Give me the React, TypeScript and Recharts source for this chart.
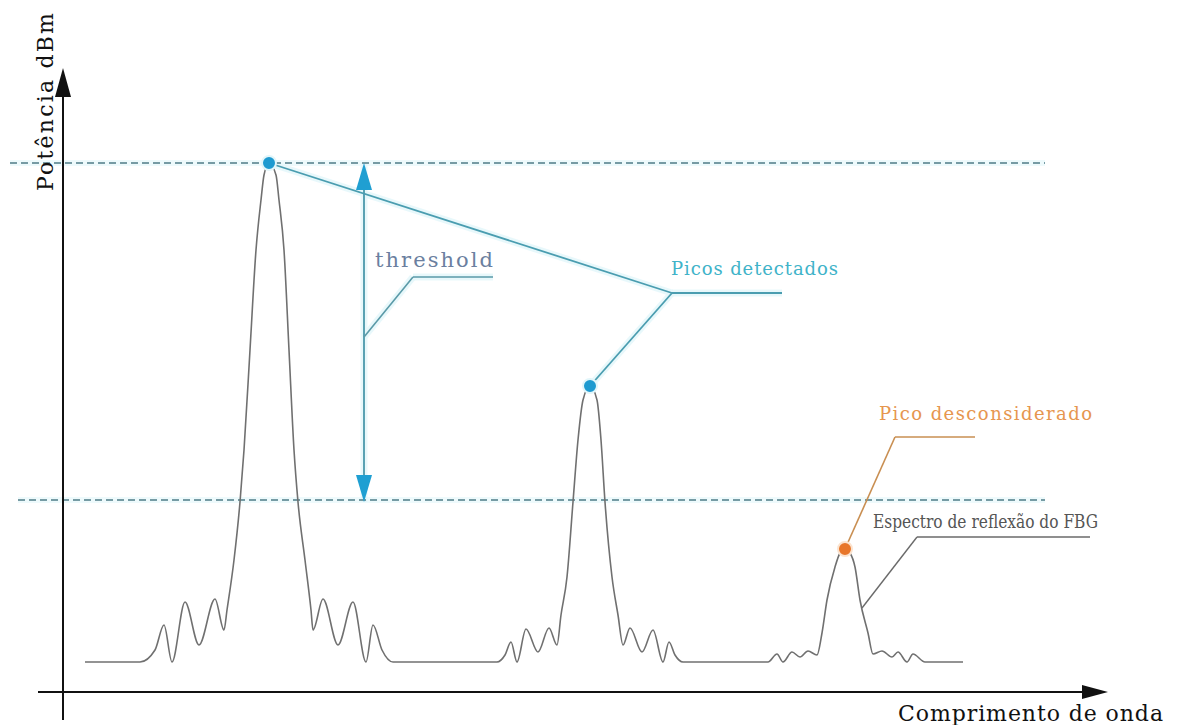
import React from 'react';
import { LineChart, Line, XAxis, YAxis, ReferenceLine, ReferenceDot } from 'recharts';

// Data units: x = relative wavelength, y = relative power (0 = wavelength axis)
const X_DOMAIN: [number, number] = [-6.3, 111.7];
const Y_DOMAIN: [number, number] = [-6.6, 138.4];

// FBG reflection spectrum, three peaks with side lobes
const peak1Profile: [number, number][] = [
  [2.2, 6], [7.7, 6], [9.2, 8.4], [10.1, 13.4], [10.9, 6], [12.2, 18], [13.6, 9.4],
  [15.2, 18.6], [16.1, 12.4], [16.4, 16.4], [17.1, 26.4], [17.7, 38], [18.1, 48.4],
  [18.7, 68.4], [19.3, 88.4], [19.8, 98.4], [20.1, 103.4], [20.6, 105.8], [21.3, 103.4],
  [21.6, 98.4], [22.1, 88.4], [22.6, 68.4], [23.1, 48.4], [23.5, 38], [24.2, 26.4],
  [24.8, 16.4], [25.0, 12.4], [26.0, 18.6], [27.5, 9.4], [29.0, 18], [30.3, 6],
  [31.0, 13.4], [31.9, 8.4], [33.0, 6],
];
const peak2Profile: [number, number][] = [
  [43.4, 6], [44.2, 7.4], [44.8, 10], [45.4, 6], [46.3, 12.6], [47.5, 8], [48.6, 12.8],
  [49.4, 9.4], [49.8, 15.4], [50.4, 23], [51.0, 38], [51.5, 50.4], [52.0, 58.4],
  [52.7, 61.2], [53.4, 58.4], [53.8, 50.4], [54.2, 38], [54.9, 23], [55.5, 15.4],
  [56.0, 9.4], [56.7, 12.8], [57.9, 8], [59.0, 12.4], [60.0, 6], [60.6, 10],
  [61.2, 7.4], [62.0, 6],
];
const peak3Profile: [number, number][] = [
  [70.5, 6], [71.4, 7.6], [72.0, 6], [72.9, 8], [73.7, 7], [74.5, 8.2], [75.4, 7.4],
  [75.9, 11.8], [76.4, 18.4], [77.2, 25], [77.7, 27.8], [78.2, 28.6], [78.7, 27.8],
  [79.2, 25], [79.7, 18.4], [80.5, 11.8], [81.0, 7.6], [81.9, 8.2], [82.9, 7],
  [83.5, 8], [84.4, 6], [85.0, 7.6], [86.2, 6], [90.0, 6],
];

const spectrum = [...peak1Profile, ...peak2Profile, ...peak3Profile].map(([x, y]) => ({ x, y }));

const detectedPeaks = [
  { x: 20.6, y: 105.8 },
  { x: 52.7, y: 61.2 },
];
const discardedPeak = { x: 78.2, y: 28.6 };

const upperLevel = 105.8;
const lowerLevel = 38.4;
const levelStart = [-5.3, -4.5];
const levelEnd = 98.2;
const thresholdX = 30.1;
const thresholdBottom = 38;

const axisYBottom = -5.6;
const axisYTip = 124.8;
const axisXStart = -2.5;
const axisXTip = 104.5;

const picosJoint = { x: 60.9, y: 79.8 };
const picosEnd = { x: 71.9, y: 79.8 };
const thresholdLeader = [{ x: 30.1, y: 71 }, { x: 35, y: 83 }, { x: 43, y: 83 }];
const discardedLeader = [{ x: 78.2, y: 28.6 }, { x: 83.2, y: 51 }, { x: 91.2, y: 51 }];
const spectrumLeader = [{ x: 79.9, y: 16.8 }, { x: 85.4, y: 31 }, { x: 102.7, y: 31 }];

const textLabels = [
  { text: 'threshold', x: 31.2, y: 85, size: 21, color: '#6b7fa0', len: 118, adj: 'spacing' },
  { text: 'Picos detectados', x: 60.8, y: 83.4, size: 18, color: '#3fb3c9', len: 167, adj: 'spacing' },
  { text: 'Pico desconsiderado', x: 81.6, y: 54.4, size: 18, color: '#e6964f', len: 213, adj: 'spacing' },
  { text: 'Espectro de reflexão do FBG', x: 81.0, y: 32.8, size: 19, color: '#555555', len: 225, adj: 'spacingAndGlyphs' },
  { text: 'Comprimento de onda', x: 83.5, y: -5.8, size: 22, color: '#111111', len: 265, adj: 'spacing' },
];
const yTitle = { text: 'Potência dBm', x: -1.0, y: 118, size: 22, color: '#111111', len: 178 };

const FONT = '"DejaVu Serif", serif';
const GLOW = '#e2f6fa';

const textShape = (l: any) => (props: any) => (
  <text
    x={props.cx}
    y={props.cy}
    fill={l.color}
    fontSize={l.size}
    fontFamily={FONT}
    textLength={l.len}
    lengthAdjust={l.adj}
  >
    {l.text}
  </text>
);

const rotatedText = (l: any) => (props: any) => (
  <text
    x={props.cx}
    y={props.cy}
    fill={l.color}
    fontSize={l.size}
    fontFamily={FONT}
    textAnchor="middle"
    textLength={l.len}
    lengthAdjust="spacing"
    transform={`rotate(-90 ${props.cx} ${props.cy})`}
  >
    {l.text}
  </text>
);

const arrowUp = (color: string, len: number, half: number) => (props: any) => (
  <polygon
    points={`${props.cx},${props.cy} ${props.cx - half},${props.cy + len} ${props.cx + half},${props.cy + len}`}
    fill={color}
  />
);
const arrowDown = (color: string, len: number, half: number) => (props: any) => (
  <polygon
    points={`${props.cx},${props.cy} ${props.cx - half},${props.cy - len} ${props.cx + half},${props.cy - len}`}
    fill={color}
  />
);
const arrowRight = (color: string, len: number, half: number) => (props: any) => (
  <polygon
    points={`${props.cx},${props.cy} ${props.cx - len},${props.cy - half} ${props.cx - len},${props.cy + half}`}
    fill={color}
  />
);

type P = { x: number; y: number };
const segs = (pts: P[]) => pts.slice(1).map((p, i) => [pts[i], p] as [P, P]);

export default function App() {
  const blueSegs: [P, P][] = [
    [detectedPeaks[0], picosJoint],
    [detectedPeaks[1], picosJoint],
    [picosJoint, picosEnd],
    [{ x: thresholdX, y: upperLevel }, { x: thresholdX, y: thresholdBottom }],
    ...segs(thresholdLeader),
  ];
  const levelSegs: [P, P][] = [
    [{ x: levelStart[0], y: upperLevel }, { x: levelEnd, y: upperLevel }],
    [{ x: levelStart[1], y: lowerLevel }, { x: levelEnd, y: lowerLevel }],
  ];
  return (
    <div style={{ position: 'absolute', left: 0, top: 0, width: 1180, height: 725, background: '#ffffff' }}>
      <LineChart width={1180} height={725} data={spectrum} margin={{ top: 0, right: 0, bottom: 0, left: 0 }}>
        <XAxis type="number" dataKey="x" domain={X_DOMAIN} hide allowDataOverflow />
        <YAxis type="number" domain={Y_DOMAIN} hide width={0} allowDataOverflow />

        {/* soft glow under the teal elements */}
        {levelSegs.map((s, i) => (
          <ReferenceLine key={`gl${i}`} segment={s} stroke={GLOW} strokeWidth={6} strokeOpacity={0.6} ifOverflow="visible" />
        ))}
        {blueSegs.map((s, i) => (
          <ReferenceLine key={`g${i}`} segment={s} stroke={GLOW} strokeWidth={7} strokeOpacity={0.8} ifOverflow="visible" />
        ))}

        {/* dashed levels */}
        {levelSegs.map((s, i) => (
          <ReferenceLine key={`lv${i}`} segment={s} stroke="#4f7c86" strokeWidth={1.3} strokeDasharray="7 4" ifOverflow="visible" />
        ))}

        {/* axes */}
        <ReferenceLine segment={[{ x: 0, y: axisYBottom }, { x: 0, y: axisYTip - 4 }]} stroke="#111" strokeWidth={2} ifOverflow="visible" />
        <ReferenceLine segment={[{ x: axisXStart, y: 0 }, { x: axisXTip - 2, y: 0 }]} stroke="#111" strokeWidth={2} ifOverflow="visible" />
        <ReferenceDot x={0} y={axisYTip} r={1} shape={arrowUp('#111', 29, 8)} ifOverflow="visible" />
        <ReferenceDot x={axisXTip} y={0} r={1} shape={arrowRight('#111', 26, 7)} ifOverflow="visible" />

        {/* threshold arrow */}
        <ReferenceLine segment={[{ x: thresholdX, y: upperLevel - 3 }, { x: thresholdX, y: thresholdBottom + 3 }]} stroke="#4a98ab" strokeWidth={1.8} ifOverflow="visible" />
        <ReferenceDot x={thresholdX} y={upperLevel} r={1} shape={arrowUp('#1f9fd2', 27, 8)} ifOverflow="visible" />
        <ReferenceDot x={thresholdX} y={thresholdBottom} r={1} shape={arrowDown('#1f9fd2', 27, 8)} ifOverflow="visible" />

        {/* leaders */}
        <ReferenceLine segment={[detectedPeaks[0], picosJoint]} stroke="#4a9db0" strokeWidth={1.8} ifOverflow="visible" />
        <ReferenceLine segment={[detectedPeaks[1], picosJoint]} stroke="#4a9db0" strokeWidth={1.8} ifOverflow="visible" />
        <ReferenceLine segment={[picosJoint, picosEnd]} stroke="#4a9db0" strokeWidth={1.8} ifOverflow="visible" />
        {segs(thresholdLeader).map((s, i) => (
          <ReferenceLine key={`t${i}`} segment={s} stroke="#5a9aa8" strokeWidth={1.6} ifOverflow="visible" />
        ))}
        {segs(discardedLeader).map((s, i) => (
          <ReferenceLine key={`d${i}`} segment={s} stroke="#c98f52" strokeWidth={1.6} ifOverflow="visible" />
        ))}
        {segs(spectrumLeader).map((s, i) => (
          <ReferenceLine key={`s${i}`} segment={s} stroke="#6a6a6a" strokeWidth={1.4} ifOverflow="visible" />
        ))}

        <Line
          type="monotone"
          dataKey="y"
          stroke="#707070"
          strokeWidth={1.6}
          dot={false}
          activeDot={false}
          isAnimationActive={false}
        />

        {/* peak markers */}
        {detectedPeaks.map((p, i) => (
          <ReferenceDot key={`p${i}`} x={p.x} y={p.y} r={7} fill="#1e9ad0" stroke={GLOW} strokeWidth={2} ifOverflow="visible" />
        ))}
        <ReferenceDot x={discardedPeak.x} y={discardedPeak.y} r={7} fill="#e8762a" stroke="#fbe3cf" strokeWidth={2} ifOverflow="visible" />

        {/* texts */}
        {textLabels.map((l, i) => (
          <ReferenceDot key={`l${i}`} x={l.x} y={l.y} r={1} shape={textShape(l)} ifOverflow="visible" />
        ))}
        <ReferenceDot x={yTitle.x} y={yTitle.y} r={1} shape={rotatedText(yTitle)} ifOverflow="visible" />
      </LineChart>
    </div>
  );
}
